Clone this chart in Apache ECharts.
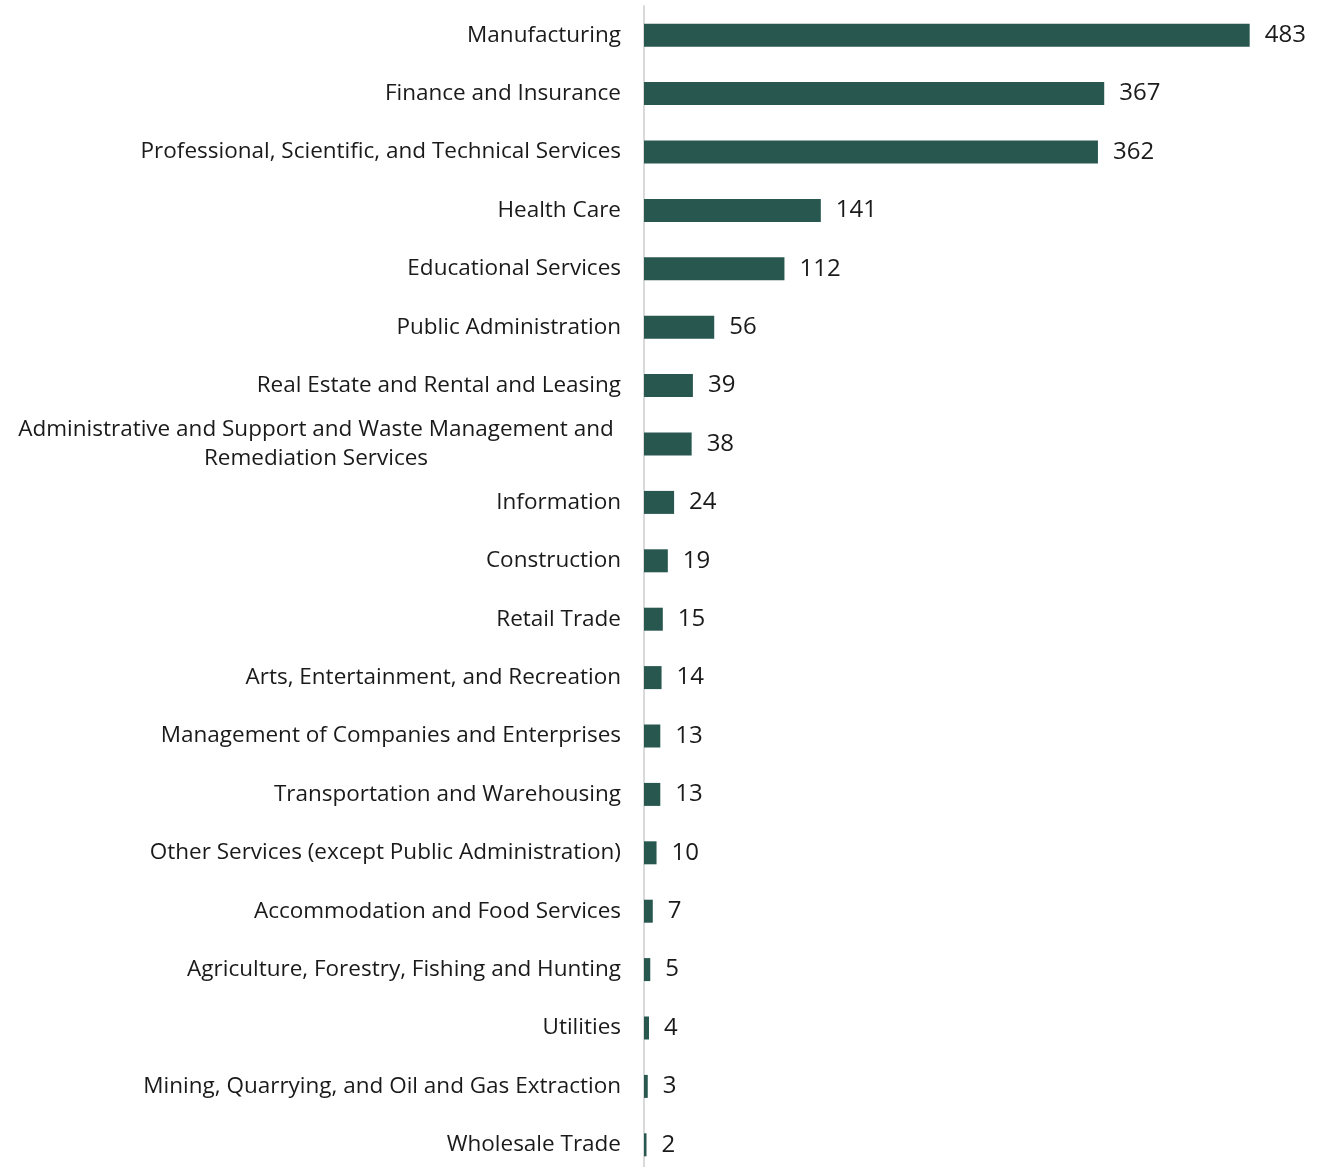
<!DOCTYPE html>
<html>
<head>
<meta charset="utf-8">
<script src="https://cdn.jsdelivr.net/npm/echarts@6/dist/echarts.min.js"></script>
<style>
html,body{margin:0;padding:0;background:#fff;overflow:hidden;}
#c{width:1327px;height:1180px;}
</style>
</head>
<body>
<div id="c"></div>
<script>
const categories = [
  "Manufacturing",
  "Finance and Insurance",
  "Professional, Scientific, and Technical Services",
  "Health Care",
  "Educational Services",
  "Public Administration",
  "Real Estate and Rental and Leasing",
  "Administrative and Support and Waste Management and\nRemediation Services",
  "Information",
  "Construction",
  "Retail Trade",
  "Arts, Entertainment, and Recreation",
  "Management of Companies and Enterprises",
  "Transportation and Warehousing",
  "Other Services (except Public Administration)",
  "Accommodation and Food Services",
  "Agriculture, Forestry, Fishing and Hunting",
  "Utilities",
  "Mining, Quarrying, and Oil and Gas Extraction",
  "Wholesale Trade"
];
const values = [483, 367, 362, 141, 112, 56, 39, 38, 24, 19, 15, 14, 13, 13, 10, 7, 5, 4, 3, 2];

const FONT = 'Open Sans';
const chart = echarts.init(document.getElementById('c'));
chart.setOption({
  backgroundColor: '#ffffff',
  animation: false,
  grid: { left: 644, right: 56, top: 6, height: 1168, containLabel: false },
  xAxis: { type: 'value', min: 0, max: 500, show: false },
  yAxis: {
    type: 'category',
    data: categories,
    inverse: true,
    axisTick: { show: false },
    axisLine: { show: true, lineStyle: { color: '#d9d9d9', width: 2 } },
    axisLabel: {
      margin: 23,
      fontFamily: FONT,
      fontSize: 22.5,
      color: '#1a1a1a',
      lineHeight: 29,
      formatter: function (v) {
        if (v.indexOf('\n') >= 0) {
          return v.split('\n').map(s => '{c|' + s + '}').join('\n');
        }
        return v;
      },
      rich: {
        c: { width: 610, align: 'center', fontFamily: FONT, fontSize: 22.5, color: '#1a1a1a', lineHeight: 29 }
      }
    }
  },
  series: [{
    type: 'bar',
    data: values,
    barWidth: 23,
    itemStyle: { color: '#28574f' },
    label: {
      show: true,
      position: 'right',
      distance: 15,
      fontFamily: FONT,
      fontSize: 24,
      color: '#1a1a1a'
    }
  }]
});
</script>
</body>
</html>
